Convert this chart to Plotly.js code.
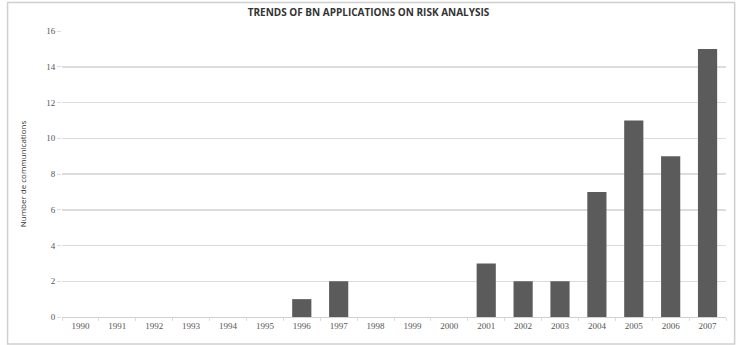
<!DOCTYPE html>
<html><head><meta charset="utf-8">
<script src="https://cdn.plot.ly/plotly-3.0.1.min.js"></script>
<style>html,body{margin:0;padding:0;background:#fff}#c{width:737px;height:345px}</style>
</head><body><div id="c"></div>
<script>
const years = ['1990','1991','1992','1993','1994','1995','1996','1997','1998','1999','2000','2001','2002','2003','2004','2005','2006','2007'];
const communications = [0,0,0,0,0,0,1,2,0,0,0,3,2,2,7,11,9,15];
const yTicks = [0,2,4,6,8,10,12,14,16];

Plotly.newPlot('c', [{
  type: 'bar',
  x: years,
  y: communications,
  marker: {color: '#5b5b5b', line: {color: '#3c3c3c', width: 0}},
  width: 0.52,
  hoverinfo: 'x+y'
}], {
  width: 737, height: 345,
  margin: {l: 62, r: 11, t: 31, b: 28},
  paper_bgcolor: '#fff', plot_bgcolor: '#fff',
  title: {text: '<b>TRENDS OF BN APPLICATIONS ON RISK ANALYSIS</b>', x: 0.5, xanchor: 'center', y: 0.965, yanchor: 'middle',
          font: {family: 'Open Sans, sans-serif', size: 10, color: '#333'}},
  xaxis: {type: 'category', tickvals: years, ticktext: years, showgrid: false, zeroline: false,
          showline: true, linecolor: '#d0d0d0', linewidth: 1,
          ticks: 'outside', tickson: 'boundaries', ticklen: 3, tickcolor: '#dddddd',
          tickfont: {family: 'Liberation Serif, serif', size: 9, color: '#555'}},
  yaxis: {range: [0, 16], tickvals: yTicks, ticktext: yTicks.map(String), showgrid: true, gridcolor: '#dcdcdc', gridwidth: 1.5,
          zeroline: false, showline: false, ticks: 'outside', ticklen: 4, tickcolor: '#dcdcdc',
          tickfont: {family: 'Liberation Serif, serif', size: 9, color: '#555'},
          title: {text: 'Number de communications', standoff: 18, font: {family: 'Open Sans, sans-serif', size: 8, color: '#333'}}},
  bargap: 0.48,
  showlegend: false,
  shapes: [{type: 'rect', xref: 'paper', yref: 'paper', x0: -0.082, x1: 1.013, y0: -0.094, y1: 1.1,
            line: {color: '#cfcfcf', width: 1.5}, fillcolor: 'rgba(0,0,0,0)'}]
}, {displayModeBar: false, staticPlot: true});
</script></body></html>
